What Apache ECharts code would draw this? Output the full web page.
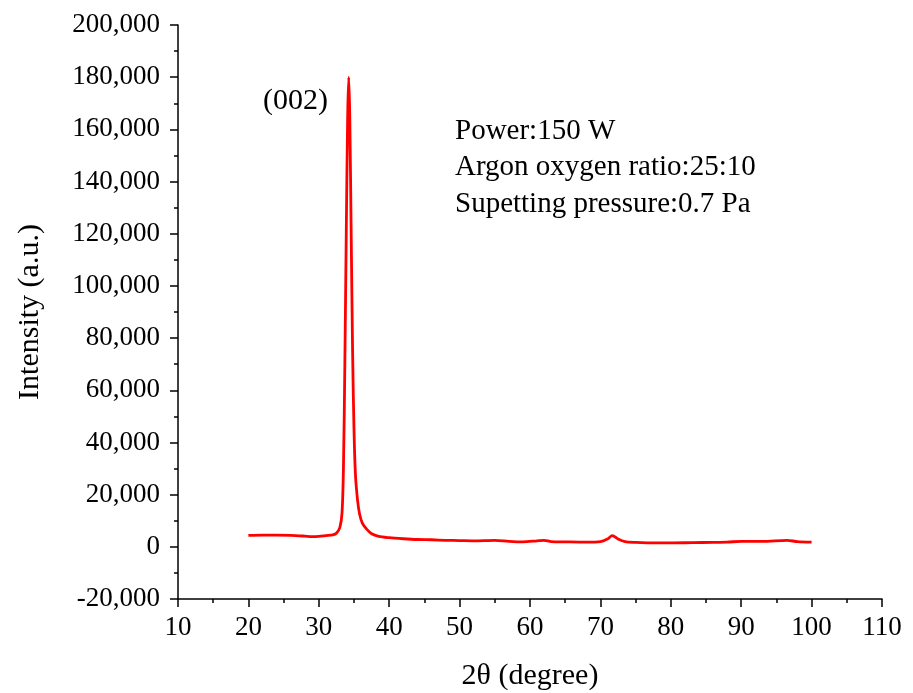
<!DOCTYPE html>
<html>
<head>
<meta charset="utf-8">
<script src="https://cdn.jsdelivr.net/npm/echarts@6/dist/echarts.min.js"></script>
<style>
  html, body { margin: 0; padding: 0; background: #fff; }
  #chart { width: 913px; height: 693px; }
</style>
</head>
<body>
<div id="chart"></div>
<script>
// XRD scan
var twoTheta = [20, 22, 24, 26, 28, 29, 30, 31, 32, 32.5, 33, 33.3, 33.5, 33.7, 33.9, 34.1, 34.25,
  34.4, 34.6, 34.8, 35.0, 35.2, 35.5, 35.8, 36.2, 36.8, 37.5, 38.5, 40, 42, 44, 46, 48, 50, 52,
  55, 57, 59, 61, 62, 63, 65, 68, 70, 71, 71.7, 72.5, 73.5, 75, 78, 80, 83, 86, 88, 90, 93,
  96.5, 98, 100];
var intensity = [4400, 4500, 4500, 4400, 4100, 3900, 4000, 4300, 4600, 5200, 7500, 13000, 30000,
  70000, 120000, 165000, 180000, 165000, 120000, 75000, 45000, 28000, 18000, 12500, 9000, 6800,
  5000, 4000, 3500, 3100, 2800, 2700, 2500, 2400, 2300, 2500, 2100, 1900, 2300, 2500, 2000,
  1900, 1800, 2000, 3000, 4300, 3000, 2000, 1700, 1500, 1500, 1600, 1700, 1800, 2100, 2100,
  2500, 2000, 1800];

var peakLabel = '(002)';
var notes = ['Power:150 W', 'Argon oxygen ratio:25:10', 'Supetting pressure:0.7 Pa'];

var font = 'Liberation Serif';
var chart = echarts.init(document.getElementById('chart'));

var points = twoTheta.map(function (x, i) { return [x, intensity[i]]; });

function fmt(v) {
  return v.toLocaleString('en-US');
}

var axisCommon = {
  axisLine: { show: true, onZero: false, lineStyle: { color: '#000', width: 1.5 } },
  axisTick: { show: true, inside: false, length: 8, lineStyle: { color: '#000', width: 1.5 } },
  minorTick: { show: true, splitNumber: 2, length: 4, lineStyle: { color: '#000', width: 1.5 } },
  splitLine: { show: false },
  nameTextStyle: { fontFamily: font, fontSize: 30, color: '#000' }
};

chart.setOption({
  animation: false,
  backgroundColor: '#fff',
  // keep the plot box fixed; the axis name at the bottom runs close to the edge
  grid: { left: 178, right: 31, top: 25, bottom: 94, outerBoundsMode: 'none' },
  xAxis: Object.assign({}, axisCommon, {
    type: 'value',
    min: 10, max: 110, interval: 10,
    name: '2θ (degree)',
    nameLocation: 'middle',
    nameGap: 62,
    axisLabel: { fontFamily: font, fontSize: 27, color: '#000', margin: 15 }
  }),
  yAxis: Object.assign({}, axisCommon, {
    type: 'value',
    min: -20000, max: 200000, interval: 20000,
    name: 'Intensity (a.u.)',
    nameLocation: 'middle',
    nameGap: 133,
    axisLabel: { fontFamily: font, fontSize: 27, color: '#000', margin: 18, formatter: fmt }
  }),
  series: [{
    type: 'line',
    data: points,
    showSymbol: false,
    smooth: 0.3,
    lineStyle: { color: '#ff0000', width: 2.8 },
    itemStyle: { color: '#ff0000' }
  }],
  graphic: [
    { type: 'text', left: 263, top: 86,
      style: { text: peakLabel, font: '30px "Liberation Serif"', fill: '#000' } },
    { type: 'text', left: 455, top: 113,
      style: { text: notes.join('\n'), font: '29px "Liberation Serif"', lineHeight: 36.5, fill: '#000' } }
  ]
});
</script>
</body>
</html>
